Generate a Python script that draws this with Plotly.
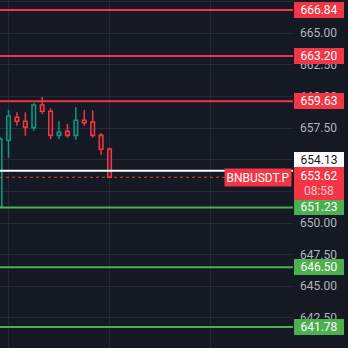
import plotly.graph_objects as go

# ---- data ----
idx = list(range(14))
opens  = [651.27, 656.54, 658.36, 658.04, 657.54, 659.33, 658.83, 656.93, 657.25, 656.93, 658.12, 657.99, 656.93, 655.85]
highs  = [656.80, 658.94, 658.75, 658.75, 659.46, 659.96, 659.07, 658.04, 657.83, 659.17, 658.94, 658.91, 657.12, 655.96]
lows   = [651.20, 655.16, 657.69, 656.90, 657.30, 658.59, 656.64, 656.64, 656.75, 656.59, 657.69, 656.75, 655.40, 653.62]
closes = [656.64, 658.46, 658.04, 657.57, 659.33, 658.83, 656.93, 657.17, 656.93, 658.12, 657.93, 656.93, 655.83, 653.62]

red_levels = [666.84, 663.20, 659.63]
green_levels = [651.23, 646.50, 641.78]
white_level = 654.13
last_price = 653.62
countdown = "08:58"
symbol = "BNBUSDT.P"
grid_x = [1, 13, 25]

BG = "#151924"
GRID = "#262a35"
RED = "#f23645"
GREEN = "#4caf50"
TEAL = "#089981"
FONT = "Roboto"

fig = go.Figure()

# wicks and hollow bodies
for up, col in [(True, TEAL), (False, RED)]:
    sel = [i for i in idx if (closes[i] >= opens[i]) == up]
    wx, wy = [], []
    for i in sel:
        top, bot = max(opens[i], closes[i]), min(opens[i], closes[i])
        wx += [i, i, None, i, i, None]
        wy += [highs[i], top, None, bot, lows[i], None]
    fig.add_trace(go.Scatter(x=wx, y=wy, mode="lines", line=dict(color=col, width=1.5),
                             showlegend=False, hoverinfo="skip"))
    fig.add_trace(go.Bar(
        x=sel,
        y=[abs(closes[i] - opens[i]) for i in sel],
        base=[min(opens[i], closes[i]) for i in sel],
        width=0.42,
        marker=dict(color="rgba(0,0,0,0)", line=dict(color=col, width=1.6)),
        showlegend=False, hoverinfo="skip"))

shapes = []
for v in red_levels:
    shapes.append(dict(type="line", xref="paper", x0=0, x1=1, yref="y", y0=v, y1=v,
                       line=dict(color=RED, width=2)))
for v in green_levels:
    shapes.append(dict(type="line", xref="paper", x0=0, x1=1, yref="y", y0=v, y1=v,
                       line=dict(color=GREEN, width=2)))
shapes.append(dict(type="line", xref="paper", x0=0, x1=1, yref="y", y0=white_level, y1=white_level,
                   line=dict(color="#ffffff", width=2)))
shapes.append(dict(type="line", xref="paper", x0=0, x1=1, yref="y", y0=last_price, y1=last_price,
                   line=dict(color=RED, width=1, dash="dot")))

ann = []
def price_label(v, bg, fg, yshift=0, text=None, height=14):
    ann.append(dict(xref="paper", x=1, xanchor="left", xshift=1, yref="y", y=v,
                    yanchor="middle", yshift=yshift, showarrow=False,
                    text=text if text else f"{v:.2f}", bgcolor=bg, borderpad=1, borderwidth=0,
                    width=48, height=height, align="center",
                    font=dict(color=fg, size=12, family=FONT)))

for v in red_levels:
    price_label(v, RED, "#ffffff")
for v in green_levels:
    price_label(v, GREEN, "#ffffff")
price_label(white_level, "#ffffff", "#131722", yshift=11, height=13)
price_label(last_price, RED, "#ffffff", yshift=-6.5,
            text=f"{last_price:.2f}<br><span style='color:#fbc4c8'>{countdown}</span>", height=31)

ann.append(dict(xref="paper", x=1, xanchor="right", xshift=-1, yref="y", y=last_price,
                yanchor="middle", showarrow=False, text=symbol, bgcolor=RED,
                borderpad=1, width=64, height=15, align="center",
                font=dict(color="#ffffff", size=12, family=FONT)))

fig.update_layout(
    width=348, height=348,
    margin=dict(l=0, r=55, t=0, b=0),
    paper_bgcolor=BG, plot_bgcolor=BG,
    barmode="overlay",
    shapes=shapes, annotations=ann,
    xaxis=dict(range=[-0.012, 34.8], tickvals=grid_x, showticklabels=False,
               showgrid=True, gridcolor=GRID, gridwidth=1, zeroline=False,
               fixedrange=True),
    yaxis=dict(side="right", range=[640.12, 667.63], tick0=640, dtick=2.5,
               tickformat=".2f", showgrid=True, gridcolor=GRID, gridwidth=1,
               zeroline=False, ticks="", ticklabelstandoff=6,
               tickfont=dict(color="#b2b5be", size=12, family=FONT)),
    font=dict(family=FONT),
)

fig.write_html("out.html")
